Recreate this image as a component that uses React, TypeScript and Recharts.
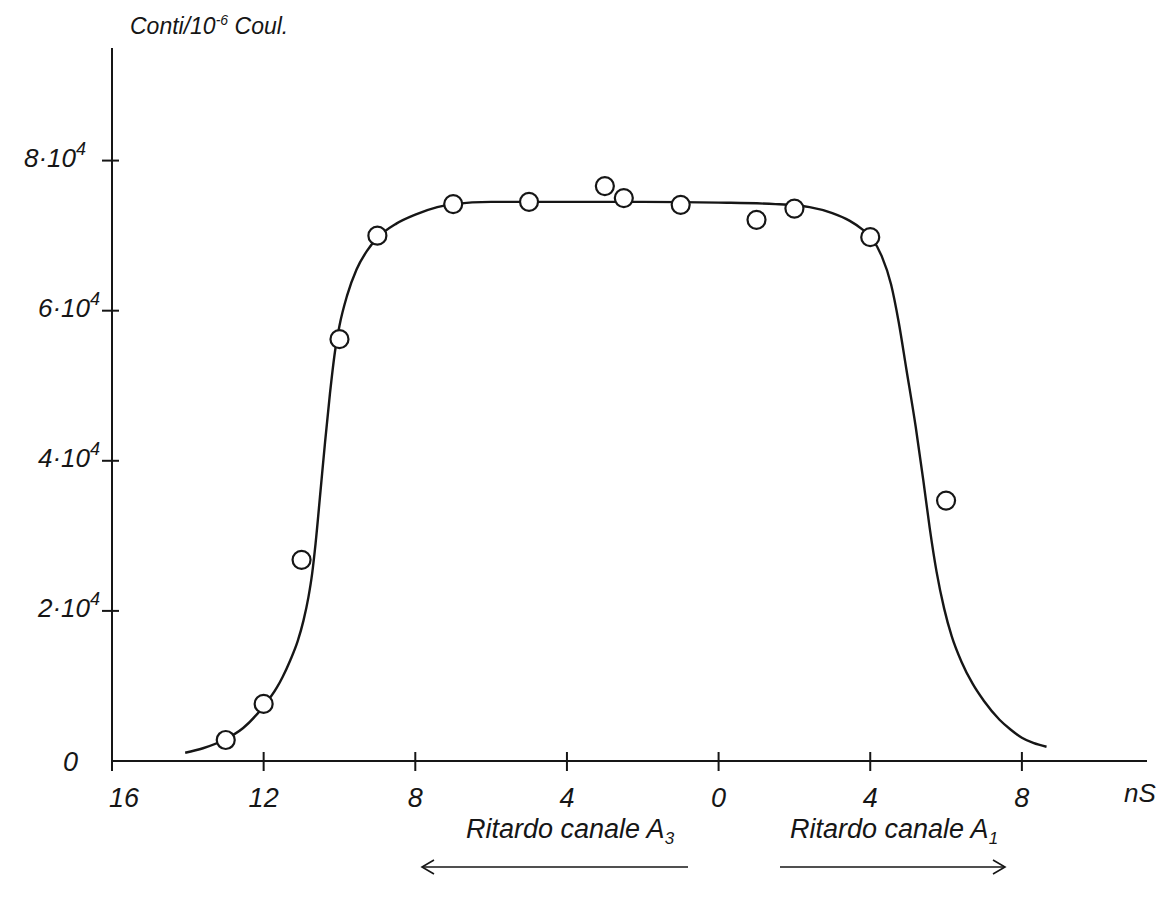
import React from 'react';
import { ComposedChart, Line, Scatter, XAxis, YAxis } from 'recharts';

// Measured points (x in ns: negative = delay on channel A3, positive = delay on channel A1)
const pointX = [-13, -12, -11, -10, -9, -7, -5, -3, -2.5, -1, 1, 2, 4, 6];
const pointY = [2800, 7600, 26800, 56200, 70000, 74200, 74500, 76600, 75000, 74100, 72100, 73600, 69800, 34700];

// Hand-drawn fitted curve
const curveX = [-14.07, -13.6, -13.05, -12.54, -12.0, -11.65, -11.5, -11.3, -11.1, -10.95, -10.82, -10.72, -10.63, -10.5, -10.38, -10.25, -10.12, -10.0, -9.8, -9.55, -9.27, -9.0, -8.5, -8.0, -7.42, -7.0, -6.0, -4.0, -2.0, 0.0, 1.5, 2.4, 3.0, 3.45, 3.8, 4.03, 4.3, 4.55, 4.75, 4.95, 5.2, 5.4, 5.57, 5.75, 5.95, 6.15, 6.4, 6.7, 7.0, 7.41, 7.7, 8.0, 8.3, 8.65];
const curveY = [1100, 1700, 2800, 4400, 7300, 9800, 11200, 13400, 16000, 18700, 21800, 25000, 29000, 36000, 42500, 49000, 54500, 58000, 62000, 65500, 68000, 69700, 71600, 72800, 73800, 74200, 74500, 74500, 74500, 74400, 74200, 73800, 73000, 72000, 70800, 69700, 67300, 63500, 58500, 52300, 44500, 37400, 31000, 25200, 20300, 16600, 13300, 10300, 8000, 5500, 4200, 3100, 2400, 1900];

const xTicks = [-16, -12, -8, -4, 0, 4, 8];
const xTickLabels = ['16', '12', '8', '4', '0', '4', '8'];
const yTicks = [0, 20000, 40000, 60000, 80000];
const yTickBase = ['0', '2·10', '4·10', '6·10', '8·10'];
const yTickExp = ['', '4', '4', '4', '4'];

const points = pointX.map((x, i) => ({ x, y: pointY[i] }));
const curve = curveX.map((x, i) => ({ x, y: curveY[i] }));

const FONT = '"Liberation Sans", "DejaVu Sans", sans-serif';
const INK = '#161616';

const XTick = (props: any) => {
  const { x, y, payload } = props;
  const idx = xTicks.indexOf(payload.value);
  const dx = payload.value === -16 ? 12 : 0;
  return (
    <g>
      <line x1={x} x2={x} y1={y - 9} y2={y + 10} stroke={INK} strokeWidth={2} />
      <text x={x + dx} y={y + 46} textAnchor="middle" fontSize={27} fontStyle="italic" fontFamily={FONT} fill={INK}>
        {xTickLabels[idx]}
      </text>
    </g>
  );
};

const YTick = (props: any) => {
  const { x, y, payload } = props;
  const idx = yTicks.indexOf(payload.value);
  if (payload.value === 0) {
    return (
      <text x={x - 34} y={y + 10} textAnchor="end" fontSize={27} fontStyle="italic" fontFamily={FONT} fill={INK}>
        {yTickBase[idx]}
      </text>
    );
  }
  const dx = payload.value === 80000 ? -14 : 0;
  return (
    <g>
      <line x1={x - 10} x2={x + 7} y1={y} y2={y} stroke={INK} strokeWidth={2} />
      <text x={x - 12 + dx} y={y + 6} textAnchor="end" fontSize={26} fontStyle="italic" fontFamily={FONT} fill={INK}>
        {yTickBase[idx]}
        <tspan dy={-12} fontSize={18}>{yTickExp[idx]}</tspan>
      </text>
    </g>
  );
};

const Ring = (props: any) => {
  const { cx, cy } = props;
  return <circle cx={cx} cy={cy} r={9} fill="#fff" stroke={INK} strokeWidth={2.2} />;
};

const textStyle: React.CSSProperties = {
  position: 'absolute',
  fontFamily: FONT,
  fontStyle: 'italic',
  color: INK,
  whiteSpace: 'nowrap',
  lineHeight: 1,
};

export default function App() {
  return (
    <div style={{ position: 'relative', width: 1154, height: 886, background: '#fff' }}>
      <ComposedChart width={1154} height={886} margin={{ top: 40, right: 15, bottom: 73, left: 0 }}>
        <XAxis
          type="number"
          dataKey="x"
          domain={[-16, 11.3]}
          ticks={xTicks}
          allowDataOverflow
          tickSize={0}
          tickMargin={0}
          tickLine={false}
          height={60}
          axisLine={{ stroke: INK, strokeWidth: 2 }}
          tick={<XTick />}
          interval={0}
        />
        <YAxis
          type="number"
          dataKey="y"
          domain={[0, 95000]}
          ticks={yTicks}
          allowDataOverflow
          tickSize={0}
          tickMargin={0}
          tickLine={false}
          width={104}
          axisLine={{ stroke: INK, strokeWidth: 2 }}
          tick={<YTick />}
          interval={0}
        />
        <Line
          data={curve}
          dataKey="y"
          type="monotone"
          dot={false}
          stroke={INK}
          strokeWidth={2.4}
          isAnimationActive={false}
        />
        <Scatter data={points} dataKey="y" shape={<Ring />} isAnimationActive={false} />
      </ComposedChart>

      <div style={{ ...textStyle, left: 122, top: 5, fontSize: 23 }}>
        Conti/10<sup style={{ fontSize: 14 }}>-6</sup> Coul.
      </div>
      <div style={{ ...textStyle, left: 1116, top: 772, fontSize: 26 }}>nS</div>
      <div style={{ ...textStyle, left: 458, top: 808, fontSize: 27 }}>
        Ritardo canale A<sub style={{ fontSize: 17 }}>3</sub>
      </div>
      <div style={{ ...textStyle, left: 782, top: 808, fontSize: 27 }}>
        Ritardo canale A<sub style={{ fontSize: 17 }}>1</sub>
      </div>
      <svg width={1154} height={886} style={{ position: 'absolute', left: 0, top: 0, pointerEvents: 'none' }}>
        <g stroke={INK} strokeWidth={1.6} fill="none">
          <line x1={414} y1={859} x2={680} y2={859} />
          <polyline points="426,852 414,859 426,866" />
          <line x1={772} y1={859} x2={997} y2={859} />
          <polyline points="985,852 997,859 985,866" />
        </g>
      </svg>
    </div>
  );
}
